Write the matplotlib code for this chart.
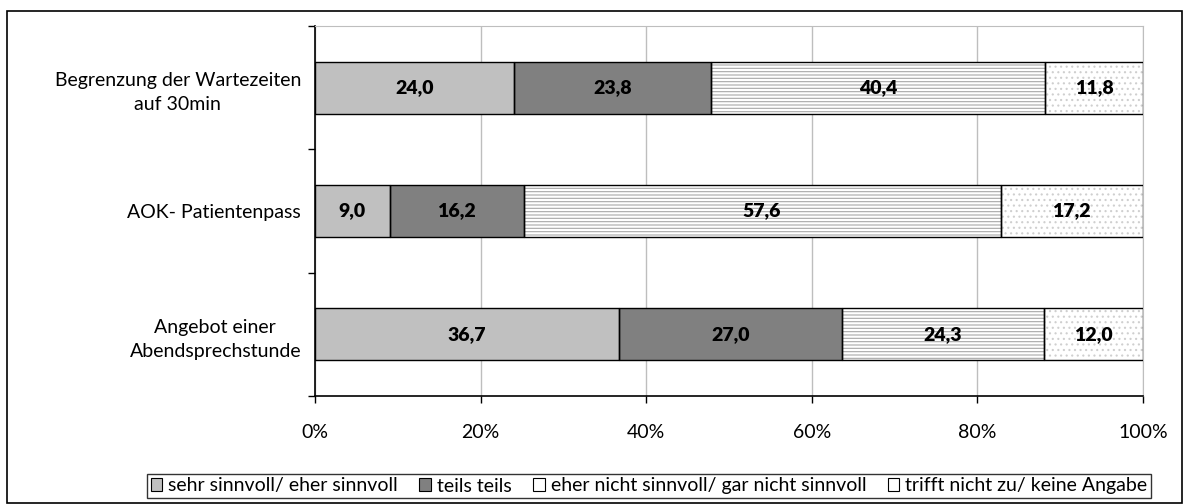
import matplotlib
matplotlib.use("Agg")
import matplotlib.pyplot as plt
from matplotlib.patches import Rectangle
from matplotlib.ticker import PercentFormatter

categories = ["Begrenzung der Wartezeiten\nauf 30min", "AOK- Patientenpass", "Angebot einer\nAbendsprechstunde"]
series_names = ["sehr sinnvoll/ eher sinnvoll", "teils teils",
                "eher nicht sinnvoll/ gar nicht sinnvoll", "trifft nicht zu/ keine Angabe"]
s1 = [24.0, 9.0, 36.7]
s2 = [23.8, 16.2, 27.0]
s3 = [40.4, 57.6, 24.3]
s4 = [11.8, 17.2, 12.0]
x_ticks = [0, 20, 40, 60, 80, 100]

plt.rcParams['font.family'] = ['Lato', 'DejaVu Sans']
plt.rcParams['hatch.linewidth'] = 0.8

FS = 14
W, H = 1189, 504
fig = plt.figure(figsize=(W / 100, H / 100), dpi=100)

# outer frame
fig.patches.append(Rectangle((7 / W, 1 - 503 / H), 1175 / W, 492 / H, transform=fig.transFigure,
                             fill=False, edgecolor="black", linewidth=1.2))

ax = fig.add_axes([315 / W, 1 - 396 / H, (1143 - 315) / W, (396 - 26) / H])

styles = [
    dict(color="#C0C0C0", hatch=None, hc="#C0C0C0"),
    dict(color="#808080", hatch=None, hc="#808080"),
    dict(color="white", hatch="-----", hc="#A8A8A8"),
    dict(color="white", hatch="...", hc="#CFCFCF"),
]

ypos = [2, 1, 0]
left = [0.0] * 3
handles = []
for vals, name, st in zip([s1, s2, s3, s4], series_names, styles):
    ax.barh(ypos, vals, left=left, height=0.42, color=st["color"],
            edgecolor=st["hc"], hatch=st["hatch"], linewidth=0, zorder=2)
    # black outline drawn separately so hatch colour stays grey
    ax.barh(ypos, vals, left=left, height=0.42, fill=False,
            edgecolor="black", linewidth=1.0, zorder=3)
    for y, l, v in zip(ypos, left, vals):
        ax.text(l + v / 2, y, f"{v:.1f}".replace(".", ","), ha="center", va="center",
                fontsize=FS, fontweight="heavy", color="black", zorder=4)
    handles.append(Rectangle((0, 0), 1, 1, facecolor=st["color"], edgecolor="black",
                             linewidth=0.8))
    left = [a + b for a, b in zip(left, vals)]

ax.set_xlim(0, 100)
ax.set_ylim(-0.5, 2.5)
ax.set_xticks(x_ticks)
ax.xaxis.set_major_formatter(PercentFormatter(decimals=0))
ax.set_yticks([-0.5, 0.5, 1.5, 2.5], minor=False)
ax.set_yticklabels([])
ax.set_yticks(ypos, minor=True)
ax.set_yticklabels(categories, minor=True, fontsize=FS, linespacing=1.5)
ax.tick_params(axis="y", which="minor", length=0, pad=10)
ax.tick_params(axis="y", which="major", length=5, direction="out", width=1)
ax.tick_params(axis="x", length=5, direction="out", width=1, labelsize=FS, pad=15)
for t in ax.get_yticklabels(minor=True):
    t.set_multialignment("center")

ax.grid(axis="x", color="#BEBEBE", linewidth=1, zorder=0)
ax.set_axisbelow(True)
for side in ["top", "right"]:
    ax.spines[side].set_color("#BEBEBE")
for side in ["left", "bottom"]:
    ax.spines[side].set_color("black")
    ax.spines[side].set_linewidth(1.2)

leg = fig.legend(handles, series_names, loc="center", ncol=4,
                 bbox_to_anchor=((135 + 1163) / 2 / W, 1 - 486 / H),
                 frameon=True, fancybox=False, edgecolor="black", fontsize=FS,
                 handlelength=0.6, handleheight=0.6, handletextpad=0.3, columnspacing=1.1,
                 borderpad=0.2, borderaxespad=0)
leg.get_frame().set_linewidth(1.0)

fig.savefig("out.png", dpi=100)
